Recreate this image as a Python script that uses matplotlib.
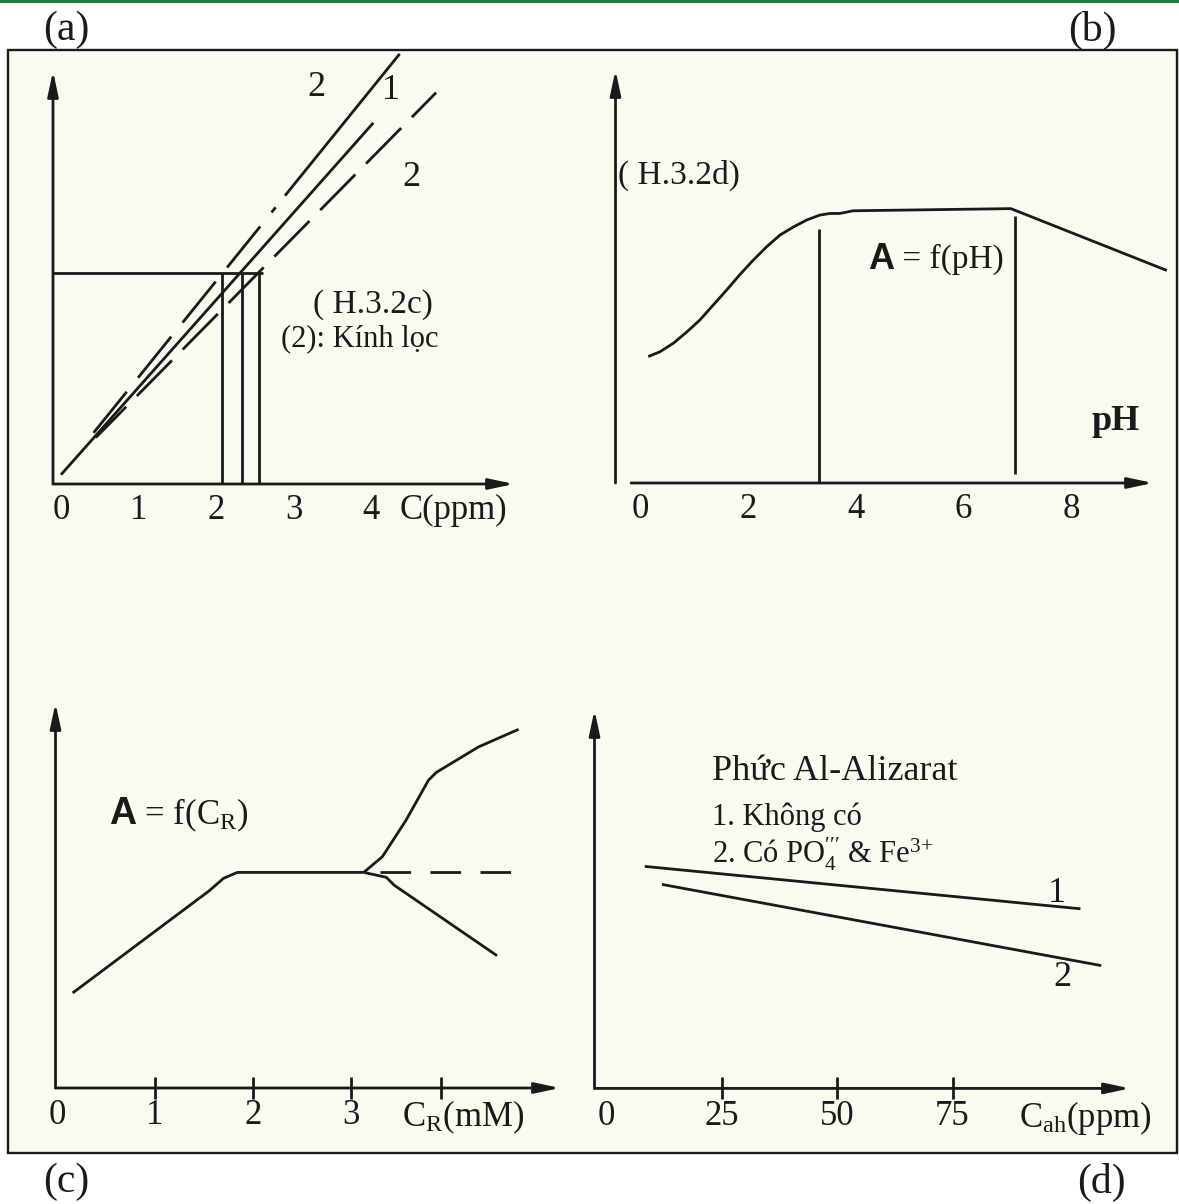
import matplotlib
matplotlib.use("Agg")
import matplotlib.pyplot as plt
from matplotlib.patches import Rectangle

INK = "#1a1a1a"
PAPER = "#fbfaf1"
GREEN = "#17803a"
W, H = 1179, 1204

plt.rcParams.update({
    "font.family": ["Liberation Serif", "DejaVu Serif"],
    "font.size": 22,
    "text.color": INK,
    "mathtext.fontset": "custom",
    "mathtext.rm": "Liberation Serif",
    "mathtext.it": "Liberation Serif:italic",
    "mathtext.bf": "Liberation Serif:bold",
    "lines.scale_dashes": False,
    "lines.solid_capstyle": "butt",
    "lines.solid_joinstyle": "round",
    "xtick.color": INK,
    "xtick.labelcolor": INK,
})

# ---- (a) calibration lines, C in ppm ----
a_ticks = [0, 1, 2, 3, 4]
a_line1_x = [0.0, 4.03]
a_line1_y = [0.12, 4.66]
a_line2up_dash_x = [0.42, 2.77]
a_line2up_dash_y = [0.66, 3.57]
a_line2up_solid_x = [2.89, 4.37]
a_line2up_solid_y = [3.72, 5.55]
a_line2low_x = [0.45, 4.84]
a_line2low_y = [0.60, 5.05]
a_level = 2.72
a_level_end = 2.60
a_reads = [2.08, 2.33, 2.55]

# ---- (b) A = f(pH) ----
b_ticks = [0, 2, 4, 6, 8]
b_ph = [0.14, 0.36, 0.61, 0.86, 1.10, 1.35, 1.60, 1.84, 2.09, 2.34, 2.59, 2.84, 3.09, 3.33,
        3.52, 3.70, 3.95, 6.88, 9.78]
b_abs = [2.35, 2.44, 2.60, 2.81, 3.03, 3.31, 3.59, 3.87, 4.14, 4.39, 4.61, 4.76, 4.89, 4.98,
         5.01, 5.01, 5.06, 5.10, 3.95]
b_lim_ph = [3.31, 6.95]
b_lim_lo = [0.0, 0.16]
b_lim_hi = [4.72, 4.96]

# ---- (c) A = f(C_R), C_R in mM ----
c_ticks = [1, 2, 3, 3.92]
c_tick_labels = ["1", "2", "3", ""]
c_x = [0.16, 1.55, 1.70, 1.84, 3.13]
c_y = [0.97, 2.01, 2.14, 2.20, 2.20]
c_up_x = [3.13, 3.32, 3.56, 3.79, 3.87, 4.30, 4.71]
c_up_y = [2.20, 2.36, 2.73, 3.14, 3.22, 3.48, 3.66]
c_down_x = [3.13, 3.36, 3.44, 4.49]
c_down_y = [2.20, 2.15, 2.07, 1.35]
c_flat_x = [3.30, 4.83]
c_flat_y = [2.20, 2.20]

# ---- (d) Al-Alizarat complex, C_ah in ppm ----
d_ticks = [25, 50, 75]
d_line1_x = [8.4, 102.7]
d_line1_y = [5.55, 4.49]
d_line2_x = [12.1, 107.2]
d_line2_y = [5.10, 3.07]

LW = 2.0
TICKFS = 25


def panel(fig, box, origin, unit, x_start=0.0):
    # box = (left, top, right, bottom) of the axis lines in pixels,
    # origin = pixel of data (0, 0), unit = pixels per data unit
    left, top, right, bottom = box
    ox, oy = origin
    ux, uy = unit
    ax = fig.add_axes([left / W, 1 - bottom / H, (right - left) / W, (bottom - top) / H])
    ax.set_xlim((left - ox) / ux, (right - ox) / ux)
    ax.set_ylim((oy - bottom) / uy, (oy - top) / uy)
    ax.patch.set_visible(False)
    for s in ax.spines.values():
        s.set_visible(False)
    ax.set_yticks([])
    arrow = dict(arrowstyle="-|>,head_length=1.5,head_width=0.32", color=INK, lw=LW,
                 shrinkA=0, shrinkB=0, mutation_scale=10)
    ax.annotate("", xy=(0, 1), xytext=(0, 0), xycoords="axes fraction", arrowprops=arrow)
    ax.annotate("", xy=(1, 0), xytext=(x_start, 0), xycoords="axes fraction", arrowprops=arrow)
    ax.tick_params(axis="x", length=0, pad=7, labelsize=TICKFS)
    return ax


def axis_name(ax, x, label, size=TICKFS):
    ax.annotate(label, xy=(x, 0), xycoords=ax.get_xaxis_transform(),
                xytext=(0, -7.5), textcoords="offset points", ha="left", va="top",
                fontsize=size)


def line(ax, x, y, **kw):
    ax.plot(x, y, color=INK, lw=LW, clip_on=False, **kw)


fig = plt.figure(figsize=(W / 100, H / 100), dpi=100)
fig.patch.set_facecolor("white")
fig.patches.append(Rectangle((0, 1 - 3 / H), 1, 3 / H, transform=fig.transFigure,
                             facecolor=GREEN, edgecolor="none", zorder=-2))
fig.patches.append(Rectangle((8 / W, 1 - 1153 / H), 1169 / W, 1103 / H, transform=fig.transFigure,
                             facecolor=PAPER, edgecolor=INK, lw=1.7, zorder=-2))

for lab, px, py in [("(a)", 66, 30), ("(b)", 1092, 30), ("(c)", 66, 1182), ("(d)", 1101, 1182)]:
    fig.text(px / W, 1 - py / H, lab, ha="center", va="center", fontsize=30)

# (a)
ax = panel(fig, (53, 71, 514, 484), (61, 484), (77.5, 77.5))
ax.set_xticks(a_ticks, [str(t) for t in a_ticks])
line(ax, a_line1_x, a_line1_y)
line(ax, a_line2up_solid_x, a_line2up_solid_y)
line(ax, a_line2up_dash_x, a_line2up_dash_y, linestyle=(0, (38, 13)))
line(ax, a_line2low_x, a_line2low_y, linestyle=(5, (36, 11)))
line(ax, [ax.get_xlim()[0], a_level_end], [a_level, a_level])
for xr in a_reads:
    line(ax, [xr, xr], [0, a_level])
ax.text(3.29, 5.11, "2", ha="center", va="center", fontsize=26)
ax.text(4.26, 5.08, "1", ha="center", va="center", fontsize=26)
ax.text(4.52, 3.96, "2", ha="center", va="center", fontsize=26)
ax.text(4.03, 2.31, "( H.3.2c)", ha="center", va="center", fontsize=24)
ax.text(3.86, 1.87, "(2): Kính lọc", ha="center", va="center", fontsize=22)
axis_name(ax, 4.37, "C(ppm)")

# (b)
ax = panel(fig, (615.5, 70, 1153, 483), (640.7, 483), (53.8, 53.8), x_start=0.029)
ax.set_xticks(b_ticks, [str(t) for t in b_ticks])
line(ax, b_ph, b_abs)
for xv, lo, hi in zip(b_lim_ph, b_lim_lo, b_lim_hi):
    line(ax, [xv, xv], [lo, hi])
ax.text(-0.42, 5.71, "( H.3.2d)", ha="left", va="center", fontsize=24)
ta = ax.text(4.23, 4.16, "A", ha="left", va="center", fontsize=26,
             family="Liberation Sans", weight="bold")
ax.annotate(" = f(pH)", xy=(1, 0.5), xycoords=ta, ha="left", va="center", fontsize=24)
ax.text(8.82, 1.15, "pH", ha="center", va="center", fontsize=26, weight="bold")

# (c)
ax = panel(fig, (55.5, 703, 560, 1088), (57, 1088), (98, 98))
ax.set_xticks(c_ticks, c_tick_labels)
ax.set_xticks([0], ["0"], minor=True)
ax.tick_params(axis="x", which="major", direction="inout", length=16, width=2, pad=0)
ax.tick_params(axis="x", which="minor", length=0, pad=8, labelsize=TICKFS)
line(ax, c_x, c_y)
line(ax, c_up_x, c_up_y)
line(ax, c_down_x, c_down_y)
line(ax, c_flat_x, c_flat_y, linestyle=(0, (22, 14)))
ta = ax.text(0.53, 2.80, "A", ha="left", va="center", fontsize=27,
             family="Liberation Sans", weight="bold")
ax.annotate(r" = f(C$_\mathrm{R}$)", xy=(1, 0.45), xycoords=ta, ha="left", va="center", fontsize=25)
axis_name(ax, 3.52, r"C$_\mathrm{R}$(mM)")

# (d)
ax = panel(fig, (594.5, 710, 1130, 1088.4), (606, 1088.4), (4.62, 40))
ax.set_xticks(d_ticks, [str(t) for t in d_ticks])
ax.set_xticks([0], ["0"], minor=True)
ax.tick_params(axis="x", which="major", direction="inout", length=16, width=2, pad=0)
ax.tick_params(axis="x", which="minor", length=0, pad=8, labelsize=TICKFS)
line(ax, d_line1_x, d_line1_y)
line(ax, d_line2_x, d_line2_y)
ax.text(97.7, 4.86, "1", ha="center", va="center", fontsize=26)
ax.text(98.9, 2.77, "2", ha="center", va="center", fontsize=26)
ax.text(22.9, 7.91, "Phức Al-Alizarat", ha="left", va="center", fontsize=26)
ax.text(22.9, 6.79, "1. Không có", ha="left", va="center", fontsize=22)
ax.text(22.9, 5.86, r"2. Có PO$_4^{\prime\prime\prime}$ & Fe$^{3{+}}$", ha="left", va="center", fontsize=22)
axis_name(ax, 89.4, r"C$_\mathrm{ah}$(ppm)")

fig.savefig("out.png", dpi=100, facecolor=fig.get_facecolor())
